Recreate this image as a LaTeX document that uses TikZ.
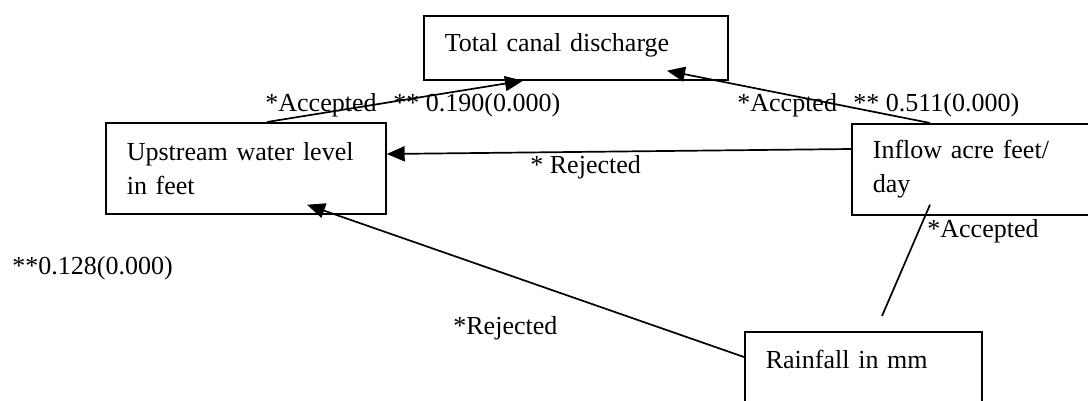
\documentclass[tikz,border=0pt]{standalone}
\usepackage{fontspec}
\setmainfont{Liberation Serif}
\usetikzlibrary{arrows.meta, calc}
\tikzset{
  varbox/.style={draw, rectangle, line width=0.85pt, anchor=north west, align=left, inner xsep=10.5pt, inner ysep=0pt},
  link/.style={line width=0.85pt},
  arr/.style={link, -{Triangle[length=9pt, width=7.5pt]}},
  lbl/.style={inner sep=0pt, anchor=base west},
}
\begin{document}
\begin{tikzpicture}[x=0.5pt, y=-0.5pt, font=\fontsize{13}{17}\selectfont]
            \useasboundingbox (0,0) rectangle (1088,401);
            % Variables
            \node[varbox, text width=131pt, minimum height=32pt, text depth=5.5pt] (total) at (423,15) {Total canal discharge};
            \node[varbox, text width=119pt, minimum height=45.5pt] (up) at (105,122) {Upstream water level\\in feet};
            \node[varbox, text width=110pt, minimum height=45.5pt] (inflow) at (851,123) {Inflow acre feet/\\day};
            \node[varbox, text width=97.5pt, minimum height=50pt, text depth=23pt] (rain) at (744,331) {Rainfall in mm};
            % Arrows
            \draw[arr] ($(up.north west)+(162,0)$) -- ($(total.south west)+(100,0)$);
            \draw[arr] ($(inflow.north west)+(79,0)$) -- ($(total.south west)+(244,-10)$);
            \draw[arr] ($(inflow.north west)+(0,26)$) -- ($(up.north east)+(0,32)$);
            \draw[arr] ($(rain.north west)+(0,26)$) -- ($(up.south west)+(202,-10)$);
            \draw[link] ($(rain.north west)+(138,-15)$) -- ($(inflow.south west)+(79,-11)$);
            % Labels
            \node[lbl] (accUp) at (265,112) {*Accepted};
            \node[lbl] (coefUp) at (393,112) {** 0.190(0.000)};
            \node[lbl] (accIn) at (737,112) {*Accpted};
            \node[lbl] (coefIn) at (853,112) {** 0.511(0.000)};
            \node[lbl] (rejIn) at (530,174) {* Rejected};
            \node[lbl] (accRain) at (927,237) {*Accepted};
            \node[lbl] (coefRain) at (12,274) {**0.128(0.000)};
            \node[lbl] (rejRain) at (453,334) {*Rejected};
        \end{tikzpicture}
\end{document}
